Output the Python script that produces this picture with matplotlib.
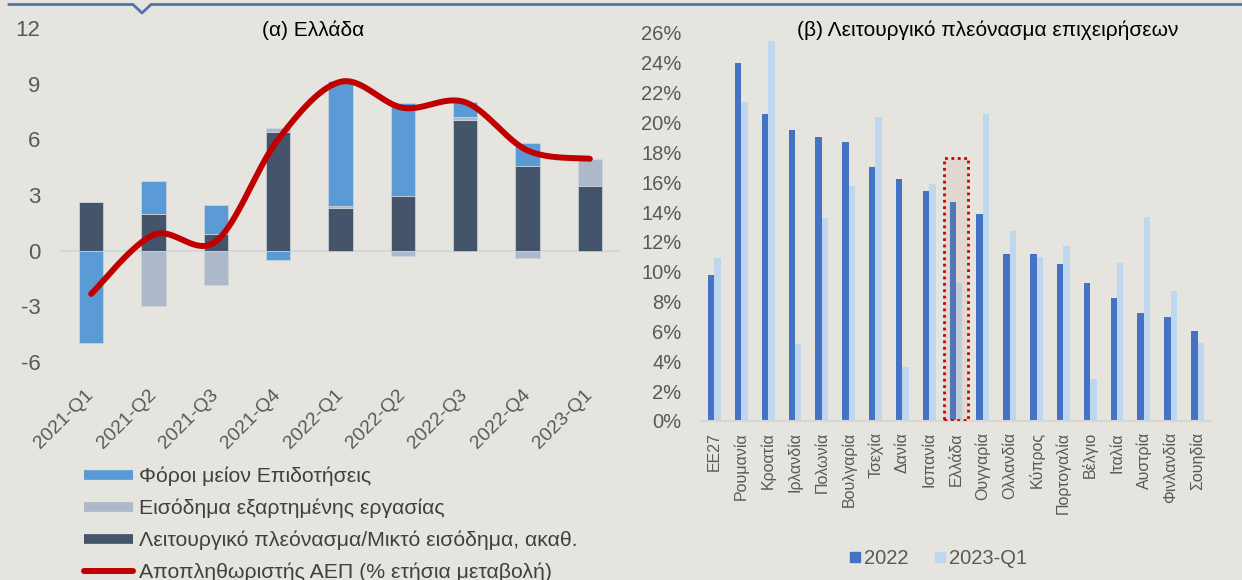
import numpy as np
import matplotlib.pyplot as plt
from matplotlib.lines import Line2D
from matplotlib.patches import Rectangle

plt.rcParams['font.family'] = ['Liberation Sans', 'DejaVu Sans']
plt.rcParams['axes.unicode_minus'] = False

# (α) Ελλάδα: συνεισφορές στον αποπληθωριστή του ΑΕΠ (π.μ.)
quarters = ['2021-Q1', '2021-Q2', '2021-Q3', '2021-Q4', '2022-Q1',
            '2022-Q2', '2022-Q3', '2022-Q4', '2023-Q1']
taxes = [-4.96, 1.81, 1.53, -0.51, 6.73, 5.02, 0.77, 1.25, 0.0]
wages = [0.0, -2.96, -1.83, 0.25, 0.10, -0.29, 0.18, -0.42, 1.46]
surplus = [2.62, 1.95, 0.91, 6.37, 2.29, 2.93, 7.04, 4.55, 3.49]
deflator = [-2.33, 0.85, 0.50, 6.0, 9.1, 7.7, 8.0, 5.4, 4.95]

# (β) Λειτουργικό πλεόνασμα επιχειρήσεων (%)
countries = ['ΕΕ27', 'Ρουμανία', 'Κροατία', 'Ιρλανδία', 'Πολωνία', 'Βουλγαρία',
             'Τσεχία', 'Δανία', 'Ισπανία', 'Ελλάδα', 'Ουγγαρία', 'Ολλανδία',
             'Κύπρος', 'Πορτογαλία', 'Βέλγιο', 'Ιταλία', 'Αυστρία', 'Φινλανδία',
             'Σουηδία']
y2022 = [9.8, 24.0, 20.6, 19.5, 19.05, 18.7, 17.05, 16.2, 15.4, 14.7, 13.9,
         11.2, 11.2, 10.5, 9.25, 8.25, 7.25, 7.0, 6.0]
y2023q1 = [10.95, 21.4, 25.45, 5.15, 13.6, 15.75, 20.4, 3.6, 15.85, 9.25, 20.6,
           12.7, 11.0, 11.7, 2.8, 10.6, 13.7, 8.7, 5.25]
highlight = 'Ελλάδα'
highlight_top = 17.6

bg = '#e5e4df'
c_blue = '#5b9bd5'
c_grey = '#adb9ca'
c_dark = '#44546a'
c_red = '#c00000'
c_22 = '#4472c4'
c_23 = '#bdd7ee'
tick_col = '#595959'


def smooth(x, y, n=40):
    # Excel-style smoothed line (Bezier through the points)
    P = np.column_stack([x, y]).astype(float)
    E = np.vstack([P[0], P, P[-1]])
    t = np.linspace(0, 1, n)[:, None]
    out = []
    for i in range(len(P) - 1):
        p0, p3 = P[i], P[i + 1]
        p1 = p0 + (E[i + 2] - E[i]) / 6
        p2 = p3 - (E[i + 3] - E[i + 1]) / 6
        seg = ((1 - t) ** 3) * p0 + 3 * ((1 - t) ** 2) * t * p1 + 3 * (1 - t) * t ** 2 * p2 + t ** 3 * p3
        out.append(seg)
    out = np.vstack(out)
    return out[:, 0], out[:, 1]


fig = plt.figure(figsize=(12.42, 5.8), dpi=100, facecolor=bg)
W, H = 1242, 580

# decorative top rule with notch
fig.add_artist(Line2D(np.array([9, 133, 142, 151, 1242]) / W,
                      1 - np.array([4.5, 4.5, 13, 4.5, 4.5]) / H,
                      transform=fig.transFigure, color='#4f74a8', lw=2))

# ---- left panel
ax1 = fig.add_axes([60 / W, 1 - 362 / H, 561 / W, 334 / H])
ax1.set_facecolor(bg)
x = np.arange(len(quarters))
pos = np.zeros(len(x))
neg = np.zeros(len(x))
for vals, col in [(surplus, c_dark), (wages, c_grey), (taxes, c_blue)]:
    v = np.array(vals)
    bottom = np.where(v >= 0, pos, neg)
    ax1.bar(x, v, 0.39, bottom=bottom, color=col, edgecolor='#d0d5dc', lw=0.5, zorder=2)
    pos += np.clip(v, 0, None)
    neg += np.clip(v, None, 0)
ax1.axhline(0, color='#d6d6d6', lw=1.5, zorder=1)
sx, sy = smooth(x, deflator)
ax1.plot(sx, sy, color=c_red, lw=4.3, solid_capstyle='round', zorder=3)
ax1.set_xlim(-0.5, len(x) - 0.5)
ax1.set_ylim(-6, 12)
ax1.set_yticks(np.arange(-6, 13, 3))
ax1.set_xticks(x)
ax1.set_xticklabels(quarters, rotation=45, ha='right', va='center', rotation_mode='anchor')
ax1.tick_params(axis='both', length=0, colors=tick_col)
ax1.tick_params(axis='y', labelsize=16, pad=14)
ax1.tick_params(axis='x', labelsize=14, pad=22)
for s in ax1.spines.values():
    s.set_visible(False)
fig.text(313 / W, 1 - 30 / H, '(α) Ελλάδα', ha='center', va='center', fontsize=15, color='black')

handles = [Line2D([], [], color=c_blue, lw=7, solid_capstyle='butt'),
           Line2D([], [], color=c_grey, lw=7, solid_capstyle='butt'),
           Line2D([], [], color=c_dark, lw=7, solid_capstyle='butt'),
           Line2D([], [], color=c_red, lw=4.3, solid_capstyle='round')]
labels = ['Φόροι μείον Επιδοτήσεις', 'Εισόδημα εξαρτημένης εργασίας',
          'Λειτουργικό πλεόνασμα/Μικτό εισόδημα, ακαθ.',
          'Αποπληθωριστής ΑΕΠ (% ετήσια μεταβολή)']
leg1 = fig.legend(handles, labels, loc='upper left', bbox_to_anchor=(84 / W, 1 - 467 / H),
                  frameon=False, fontsize=15.3, handlelength=2.3, handletextpad=0.3,
                  labelspacing=0.58, borderpad=0, borderaxespad=0)
for t in leg1.get_texts():
    t.set_color('#404040')

# ---- right panel
ax2 = fig.add_axes([701 / W, 1 - 421 / H, 510 / W, 388 / H])
ax2.set_facecolor(bg)
xc = np.arange(len(countries))
ax2.bar(xc - 0.12, y2022, 0.24, color=c_22, zorder=2, label='2022')
ax2.bar(xc + 0.12, y2023q1, 0.24, color=c_23, zorder=2, label='2023-Q1')
hi = countries.index(highlight)
ax2.add_patch(Rectangle((hi - 0.45, 0.05), 0.9, highlight_top - 0.05, facecolor='#c88a70',
                        alpha=0.13, zorder=3, lw=0))
ax2.add_patch(Rectangle((hi - 0.45, 0.05), 0.9, highlight_top - 0.05, facecolor='none',
                        edgecolor='#cc0000', lw=2, linestyle=(0, (1, 1.3)), zorder=4))
ax2.set_xlim(-0.5, len(xc) - 0.5)
ax2.set_ylim(0, 26)
ax2.set_yticks(np.arange(0, 27, 2))
ax2.set_yticklabels([f'{v}%' for v in range(0, 27, 2)])
ax2.set_xticks(xc)
ax2.set_xticklabels(countries, rotation=90, ha='center', va='top')
ax2.tick_params(axis='both', length=0, colors=tick_col)
ax2.tick_params(axis='y', labelsize=14.5, pad=14)
ax2.tick_params(axis='x', labelsize=11.5, pad=8)
for k, s in ax2.spines.items():
    s.set_visible(k == 'bottom')
ax2.spines['bottom'].set_color('#d6d6d6')
ax2.spines['bottom'].set_linewidth(1.5)
fig.text(988 / W, 1 - 30 / H, '(β) Λειτουργικό πλεόνασμα επιχειρήσεων', ha='center',
         va='center', fontsize=15, color='black')

h2 = [Line2D([], [], marker='s', ls='', color=c_22, markersize=7.5),
      Line2D([], [], marker='s', ls='', color=c_23, markersize=7.5)]
leg2 = fig.legend(h2, ['2022', '2023-Q1'], loc='center', bbox_to_anchor=(938 / W, 1 - 559 / H),
                  ncol=2, frameon=False, fontsize=14.5, handlelength=0.6, handletextpad=0.15,
                  columnspacing=1.3, borderpad=0, borderaxespad=0)
for t in leg2.get_texts():
    t.set_color(tick_col)

fig.savefig('out.png', dpi=100, facecolor=bg)
